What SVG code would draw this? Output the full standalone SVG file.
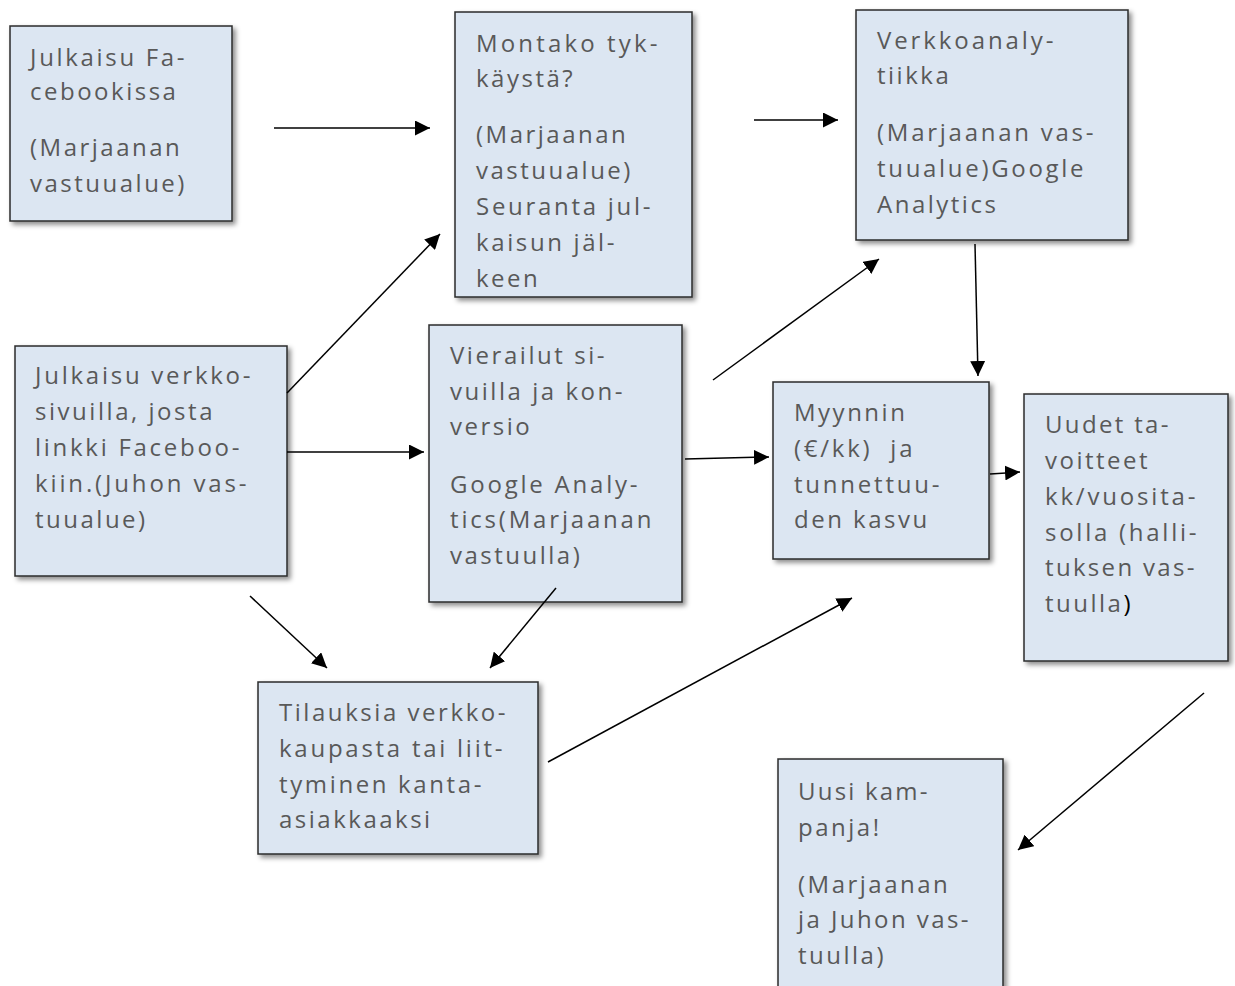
<svg xmlns="http://www.w3.org/2000/svg" width="1235" height="986" viewBox="0 0 1235 986">
<defs>
<filter id="sh" x="-10%" y="-10%" width="130%" height="130%">
<feDropShadow dx="3" dy="3" stdDeviation="2.5" flood-color="#000" flood-opacity="0.45"/>
</filter>
<marker id="ah" viewBox="0 0 10 10" refX="10" refY="5" markerWidth="15" markerHeight="15" markerUnits="userSpaceOnUse" orient="auto">
<path d="M0,0 L10,5 L0,10 Z" fill="#000"/>
</marker>
<style>
.box{fill:#dce6f2;stroke:#2b2b2b;stroke-width:1.5;filter:url(#sh)}
.t{font-family:"Open Sans","Liberation Sans",sans-serif;font-size:24px;letter-spacing:2.5px;fill:#595959}
.c line{stroke:#000;stroke-width:1.5;marker-end:url(#ah)}
</style>
</defs>
<rect width="1235" height="986" fill="#fff"/>
<g id="n1"><rect class="box" x="10" y="26" width="222" height="195"/>
<text class="t" lengthAdjust="spacing"><tspan x="30" y="66" textLength="157">Julkaisu Fa-</tspan><tspan x="30" y="100">cebookissa</tspan><tspan x="30" y="156">(Marjaanan</tspan><tspan x="30" y="192">vastuualue)</tspan></text></g>
<g id="n2"><rect class="box" x="455" y="12" width="237" height="285"/>
<text class="t"><tspan x="476" y="52" textLength="184">Montako tyk-</tspan><tspan x="476" y="87">käystä?</tspan><tspan x="476" y="143">(Marjaanan</tspan><tspan x="476" y="179">vastuualue)</tspan><tspan x="476" y="215" textLength="177">Seuranta jul-</tspan><tspan x="476" y="251" textLength="141">kaisun jäl-</tspan><tspan x="476" y="287">keen</tspan></text></g>
<g id="n3"><rect class="box" x="856" y="10" width="272" height="230"/>
<text class="t"><tspan x="877" y="49" textLength="179">Verkkoanaly-</tspan><tspan x="877" y="84">tiikka</tspan><tspan x="877" y="141" textLength="219">(Marjaanan vas-</tspan><tspan x="877" y="177" textLength="209">tuualue)Google</tspan><tspan x="877" y="213">Analytics</tspan></text></g>
<g id="n4"><rect class="box" x="15" y="346" width="272" height="230"/>
<text class="t"><tspan x="35" y="384" textLength="218">Julkaisu verkko-</tspan><tspan x="35" y="420" textLength="180">sivuilla, josta</tspan><tspan x="35" y="456" textLength="207">linkki Faceboo-</tspan><tspan x="35" y="492" textLength="214">kiin.(Juhon vas-</tspan><tspan x="35" y="528">tuualue)</tspan></text></g>
<g id="n5"><rect class="box" x="429" y="325" width="253" height="277"/>
<text class="t"><tspan x="450" y="364" textLength="157">Vierailut si-</tspan><tspan x="450" y="400" textLength="175">vuilla ja kon-</tspan><tspan x="450" y="435">versio</tspan><tspan x="450" y="493" textLength="190">Google Analy-</tspan><tspan x="450" y="528" textLength="204">tics(Marjaanan</tspan><tspan x="450" y="564">vastuulla)</tspan></text></g>
<g id="n6"><rect class="box" x="773" y="382" width="216" height="177"/>
<text class="t"><tspan x="794" y="421">Myynnin</tspan><tspan x="794" y="457" xml:space="preserve" textLength="121">(€/kk)  ja</tspan><tspan x="794" y="493" textLength="148">tunnettuu-</tspan><tspan x="794" y="528">den kasvu</tspan></text></g>
<g id="n7"><rect class="box" x="1024" y="394" width="204" height="267"/>
<text class="t"><tspan x="1045" y="433" textLength="126">Uudet ta-</tspan><tspan x="1045" y="469">voitteet</tspan><tspan x="1045" y="505" textLength="153">kk/vuosita-</tspan><tspan x="1045" y="541" textLength="154">solla (halli-</tspan><tspan x="1045" y="576" textLength="152">tuksen vas-</tspan><tspan x="1045" y="612">tuulla<tspan fill="#000">)</tspan></tspan></text></g>
<g id="n8"><rect class="box" x="258" y="682" width="280" height="172"/>
<text class="t"><tspan x="279" y="721" textLength="229">Tilauksia verkko-</tspan><tspan x="279" y="757" textLength="226">kaupasta tai liit-</tspan><tspan x="279" y="793" textLength="205">tyminen kanta-</tspan><tspan x="279" y="828">asiakkaaksi</tspan></text></g>
<g id="n9"><rect class="box" x="778" y="759" width="225" height="240"/>
<text class="t"><tspan x="798" y="800" textLength="132">Uusi kam-</tspan><tspan x="798" y="836">panja!</tspan><tspan x="798" y="893">(Marjaanan</tspan><tspan x="798" y="928" textLength="173">ja Juhon vas-</tspan><tspan x="798" y="964">tuulla)</tspan></text></g>
<g id="connectors" class="c">
<line x1="274" y1="128" x2="430" y2="128"/>
<line x1="754" y1="120" x2="838" y2="120"/>
<line x1="287" y1="393" x2="440" y2="234"/>
<line x1="713" y1="380" x2="879" y2="259"/>
<line x1="287" y1="452" x2="424" y2="452"/>
<line x1="685" y1="459" x2="769" y2="457"/>
<line x1="975" y1="244" x2="978" y2="376"/>
<line x1="990" y1="474" x2="1020" y2="472"/>
<line x1="250" y1="596" x2="327" y2="668"/>
<line x1="556" y1="588" x2="490" y2="668"/>
<line x1="548" y1="762" x2="852" y2="598"/>
<line x1="1204" y1="693" x2="1018" y2="850"/>
</g>
</svg>
